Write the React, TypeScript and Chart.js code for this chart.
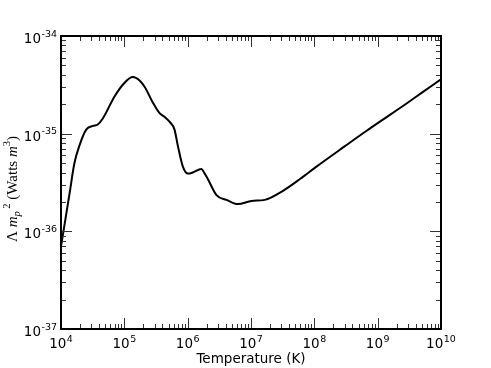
import React, { useEffect, useRef } from "react";
import { Chart, registerables } from "chart.js";

Chart.register(...registerables);

// Temperature (K)
const temperatures = [
  1.0e4, 1.36e4, 1.63e4, 1.96e4, 2.5e4, 3.2e4, 3.8e4, 4.6e4, 7.0e4, 1.0e5,
  1.36e5, 1.74e5, 2.1e5, 2.8e5, 3.6e5, 4.35e5, 5.2e5, 6.2e5, 7.0e5, 8.4e5,
  1.01e6, 1.2e6, 1.64e6, 1.86e6, 2.1e6, 2.85e6, 4.1e6, 6.2e6, 1.02e7, 1.65e7,
  3.2e7, 6.0e7, 1.08e8, 3.0e8, 6.7e8, 1.5e9, 2.9e9, 5.0e9, 1.0e10,
];
// Lambda * m_p^2 (Watts m^3)
const lambdaValues = [
  7.0e-37, 2.4e-36, 5.0e-36, 7.6e-36, 1.1e-35, 1.2e-35, 1.24e-35, 1.44e-35, 2.4e-35, 3.3e-35,
  3.8e-35, 3.5e-35, 3.0e-35, 2.1e-35, 1.62e-35, 1.48e-35, 1.32e-35, 1.1e-35, 7.5e-36, 4.6e-36,
  3.9e-36, 4.0e-36, 4.35e-36, 3.9e-36, 3.4e-36, 2.35e-36, 2.1e-36, 1.9e-36, 2.05e-36, 2.1e-36,
  2.6e-36, 3.45e-36, 4.6e-36, 7.4e-36, 1.07e-35, 1.53e-35, 2.05e-35, 2.63e-35, 3.6e-35,
];

const xDecades = [1e4, 1e5, 1e6, 1e7, 1e8, 1e9, 1e10];
const xExponents = ["4", "5", "6", "7", "8", "9", "10"];
const yDecades = [1e-37, 1e-36, 1e-35, 1e-34];
const yExponents = ["-37", "-36", "-35", "-34"];
const minorMultipliers = [2, 3, 4, 5, 6, 7, 8, 9];

const xTitle = "Temperature (K)";

const FONT = "DejaVu Sans";
const BASE_SIZE = 13.5;
const EXP_SIZE = 9.5;

function drawPower(ctx: CanvasRenderingContext2D, exp: string, x: number, baseline: number, align: "center" | "right") {
  ctx.font = `${BASE_SIZE}px "${FONT}"`;
  const wb = ctx.measureText("10").width;
  ctx.font = `${EXP_SIZE}px "${FONT}"`;
  const we = ctx.measureText(exp).width;
  const total = wb + we + 0.5;
  const left = align === "center" ? x - total / 2 : x - total;
  ctx.textAlign = "left";
  ctx.textBaseline = "alphabetic";
  ctx.font = `${BASE_SIZE}px "${FONT}"`;
  ctx.fillText("10", left, baseline);
  ctx.font = `${EXP_SIZE}px "${FONT}"`;
  ctx.fillText(exp, left + wb + 0.5, baseline - 6.5);
}

const framePlugin = {
  id: "mplFrame",
  afterDraw(chart: any) {
    const ctx: CanvasRenderingContext2D = chart.ctx;
    const { left, right, top, bottom } = chart.chartArea;
    const xs = chart.scales.x;
    const ys = chart.scales.y;
    ctx.save();

    // ticks (inward, all four sides)
    ctx.strokeStyle = "#333";
    ctx.lineWidth = 1;
    const majorLen = 11;
    const minorLen = 5;
    const xTicks: [number, boolean][] = [];
    xDecades.forEach((d, i) => {
      xTicks.push([d, true]);
      if (i < xDecades.length - 1) minorMultipliers.forEach((m) => xTicks.push([d * m, false]));
    });
    const yTicks: [number, boolean][] = [];
    yDecades.forEach((d, i) => {
      yTicks.push([d, true]);
      if (i < yDecades.length - 1) minorMultipliers.forEach((m) => yTicks.push([d * m, false]));
    });
    ctx.beginPath();
    xTicks.forEach(([v, major]) => {
      const px = Math.round(xs.getPixelForValue(v)) + 0.5;
      const len = major ? majorLen : minorLen;
      ctx.moveTo(px, bottom);
      ctx.lineTo(px, bottom - len);
      ctx.moveTo(px, top);
      ctx.lineTo(px, top + len);
    });
    yTicks.forEach(([v, major]) => {
      const py = Math.round(ys.getPixelForValue(v)) + 0.5;
      const len = major ? majorLen : minorLen;
      ctx.moveTo(left, py);
      ctx.lineTo(left + len, py);
      ctx.moveTo(right, py);
      ctx.lineTo(right - len, py);
    });
    ctx.stroke();

    // frame
    ctx.strokeStyle = "#000";
    ctx.lineWidth = 2;
    ctx.strokeRect(left, top, right - left, bottom - top);

    // tick labels
    ctx.fillStyle = "#000";
    xDecades.forEach((d, i) => {
      drawPower(ctx, xExponents[i], xs.getPixelForValue(d), bottom + 19, "center");
    });
    yDecades.forEach((d, i) => {
      drawPower(ctx, yExponents[i], left - 4, ys.getPixelForValue(d) + 7, "right");
    });

    // x title
    ctx.font = `${BASE_SIZE}px "${FONT}"`;
    ctx.textAlign = "center";
    ctx.textBaseline = "alphabetic";
    ctx.fillText(xTitle, (left + right) / 2, bottom + 34);

    // y title (mathtext-like)
    const serif = '"Liberation Serif"';
    const fs = 15;
    const sub = 10.5;
    const parts: { t: string; font: string; dy: number }[] = [
      { t: "\u039B ", font: `${fs}px ${serif}`, dy: 0 },
      { t: "m", font: `italic ${fs}px ${serif}`, dy: 0 },
      { t: "p", font: `italic ${sub}px ${serif}`, dy: 3 },
      { t: " 2", font: `${sub}px ${serif}`, dy: -7.5 },
      { t: " (Watts ", font: `${fs}px ${serif}`, dy: 0 },
      { t: "m", font: `italic ${fs}px ${serif}`, dy: 0 },
      { t: "3", font: `${sub}px ${serif}`, dy: -7.5 },
      { t: ")", font: `${fs}px ${serif}`, dy: 0 },
    ];
    let total = 0;
    const widths = parts.map((p) => {
      ctx.font = p.font;
      const w = ctx.measureText(p.t).width;
      total += w;
      return w;
    });
    ctx.translate(17, 189);
    ctx.rotate(-Math.PI / 2);
    ctx.textAlign = "left";
    let cx = -total / 2;
    parts.forEach((p, i) => {
      ctx.font = p.font;
      ctx.fillText(p.t, cx, p.dy);
      cx += widths[i];
    });
    ctx.restore();
  },
};

export default function App() {
  const ref = useRef<HTMLCanvasElement>(null);
  useEffect(() => {
    if (!ref.current) return;
    const chart = new Chart(ref.current, {
      type: "line",
      data: {
        datasets: [
          {
            data: temperatures.map((t, i) => ({ x: t, y: lambdaValues[i] })),
            borderColor: "#000",
            borderWidth: 2,
            pointRadius: 0,
            cubicInterpolationMode: "monotone",
            fill: false,
          },
        ],
      },
      options: {
        animation: false,
        responsive: false,
        devicePixelRatio: 1,
        layout: { padding: { left: 61, top: 36, right: 50, bottom: 39 } },
        plugins: { legend: { display: false }, tooltip: { enabled: false } },
        scales: {
          x: { type: "logarithmic", min: 1e4, max: 1e10, display: false },
          y: { type: "logarithmic", min: 1e-37, max: 1e-34, display: false },
        },
      },
      plugins: [framePlugin],
    });
    return () => chart.destroy();
  }, []);
  return (
    <canvas
      ref={ref}
      width={491}
      height={368}
      style={{ position: "absolute", left: 0, top: 0, width: 491, height: 368, background: "#fff" }}
    />
  );
}
